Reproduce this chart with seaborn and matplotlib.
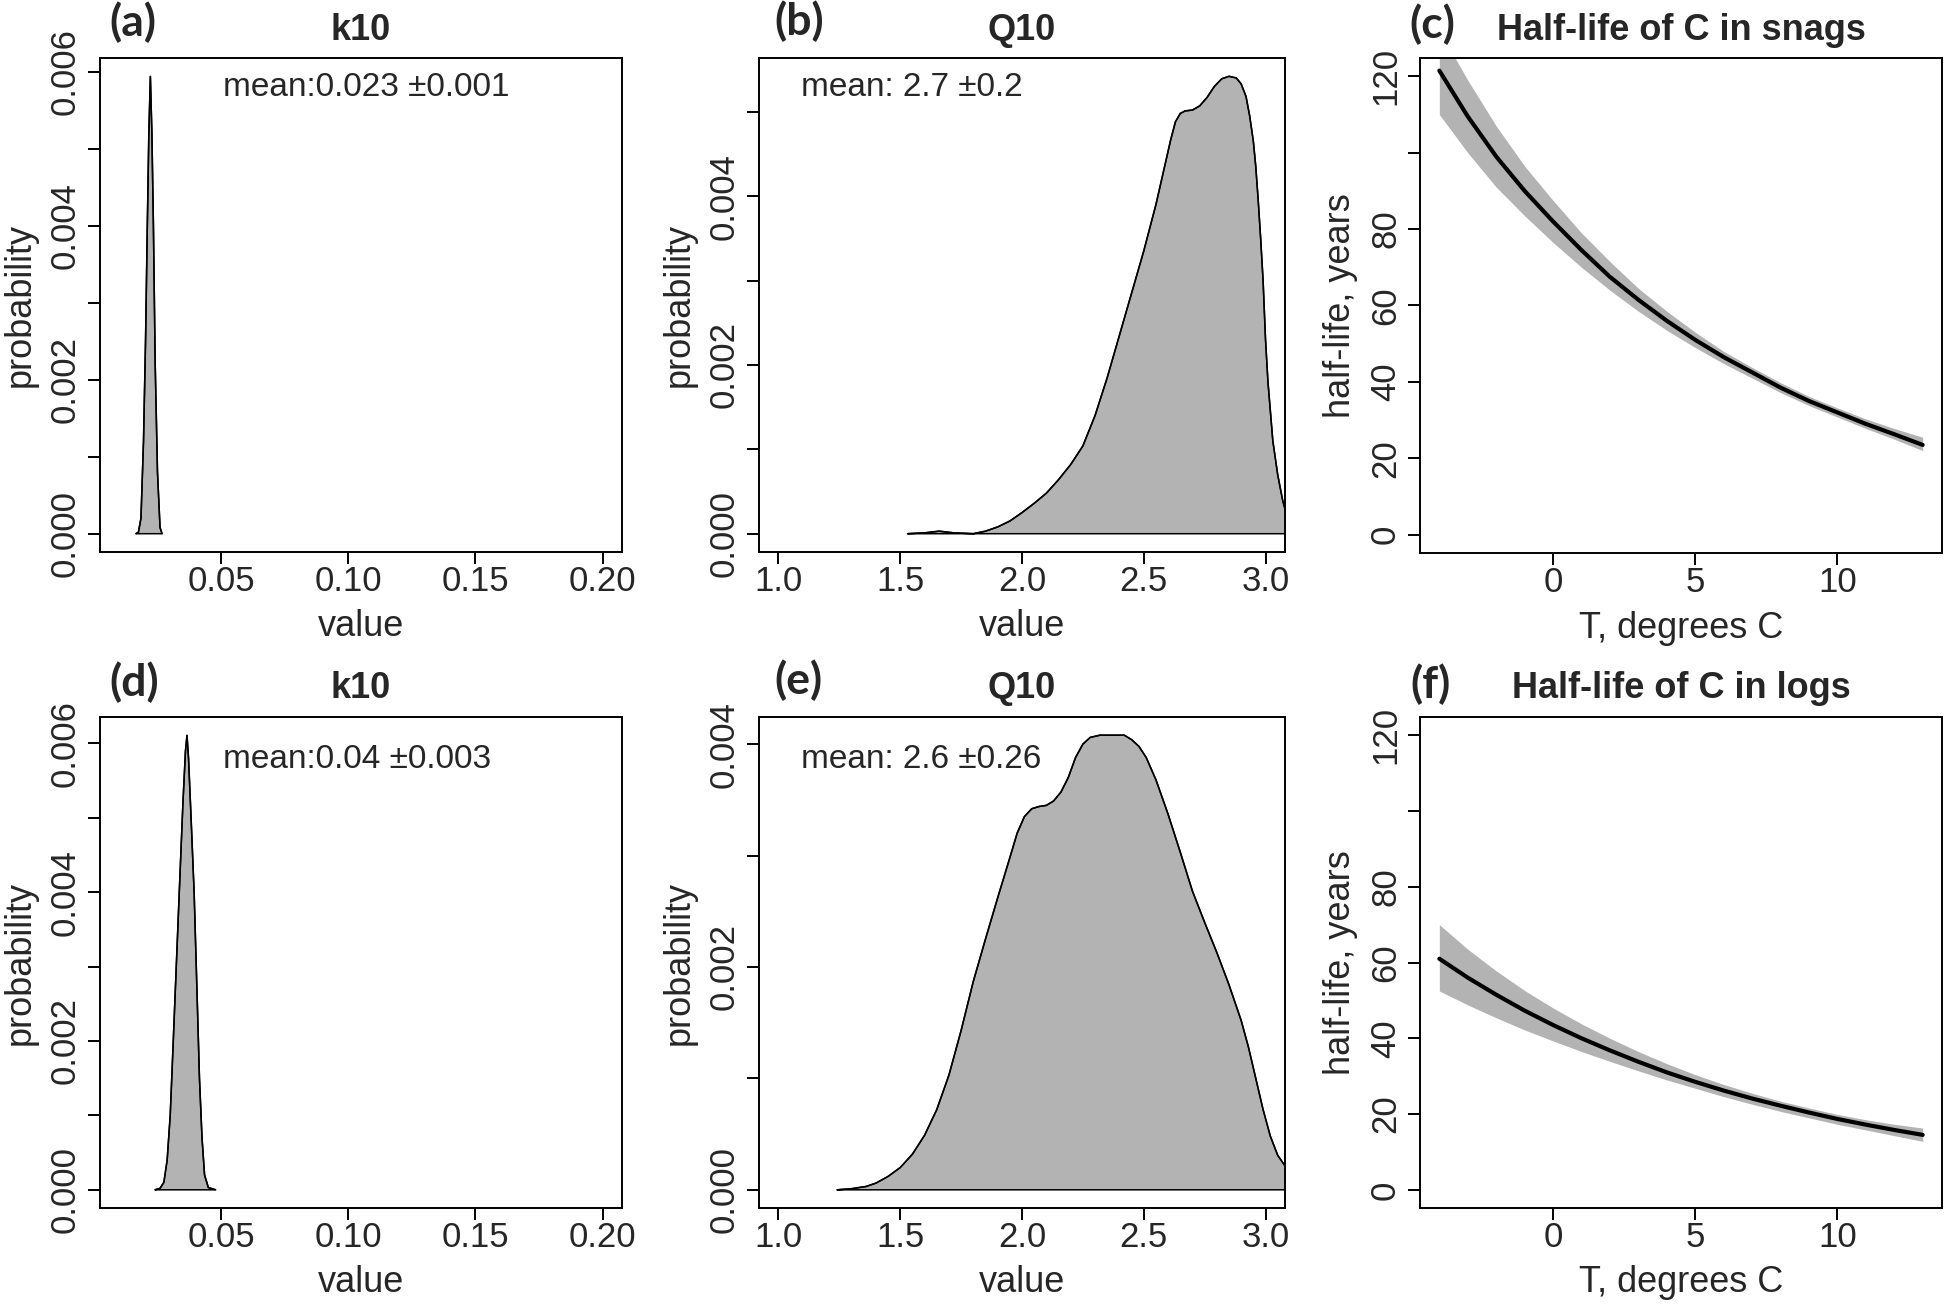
import numpy as np
import matplotlib
matplotlib.use("Agg")
import matplotlib.pyplot as plt
import seaborn as sns

# ---- data ----
# (a) k10 posterior, snags
k10_snag_x = [0.0165, 0.0175, 0.0185, 0.0195, 0.0203, 0.0210, 0.0216, 0.0222, 0.0228,
              0.0234, 0.0241, 0.0250, 0.0260, 0.0268]
k10_snag_p = [0, 0.00002, 0.0002, 0.0012, 0.0025, 0.0040, 0.0052, 0.00594, 0.0052,
              0.0040, 0.0022, 0.0008, 0.00008, 0]

# (b) Q10 posterior, snags
q10_snag_x = [1.53, 1.60, 1.66, 1.72, 1.80, 1.85, 1.90, 1.95, 2.00, 2.05, 2.10, 2.15, 2.20,
              2.25, 2.30, 2.35, 2.40, 2.45, 2.50, 2.55, 2.58, 2.61, 2.63, 2.65, 2.67, 2.70,
              2.73, 2.76, 2.79, 2.82, 2.85, 2.88, 2.90, 2.92, 2.935, 2.95, 2.96, 2.97, 2.98,
              2.99, 3.00, 3.01, 3.03, 3.05, 3.07, 3.085]
q10_snag_p = [0, 0.00001, 0.00003, 0.00001, 0, 0.00003, 0.00008, 0.00015, 0.00025, 0.00036,
              0.00048, 0.00064, 0.00082, 0.00104, 0.00140, 0.00185, 0.00235, 0.00285, 0.00335,
              0.00390, 0.00428, 0.00466, 0.00488, 0.00498, 0.00501, 0.00502, 0.00507, 0.00517,
              0.00530, 0.00539, 0.00542, 0.00540, 0.00533, 0.00518, 0.00495, 0.00465, 0.00435,
              0.00395, 0.00350, 0.00300, 0.00230, 0.00180, 0.00110, 0.00070, 0.00040, 0.00024]

# (d) k10 posterior, logs
k10_log_x = [0.0240, 0.0260, 0.0275, 0.0288, 0.0300, 0.0312, 0.0325, 0.0338, 0.0350, 0.0360,
             0.0366, 0.0372, 0.0382, 0.0394, 0.0405, 0.0415, 0.0425, 0.0435, 0.0450, 0.0479]
k10_log_p = [0, 0.00002, 0.0001, 0.0004, 0.0010, 0.0020, 0.0031, 0.0042, 0.0052, 0.0059,
             0.00611, 0.0058, 0.0050, 0.0040, 0.0027, 0.0015, 0.0007, 0.0002, 0.00003, 0]

# (e) Q10 posterior, logs
q10_log_x = [1.24, 1.30, 1.36, 1.40, 1.45, 1.50, 1.55, 1.60, 1.65, 1.70, 1.75, 1.80, 1.85,
             1.90, 1.95, 1.98, 2.01, 2.04, 2.07, 2.10, 2.13, 2.16, 2.19, 2.22, 2.25, 2.28,
             2.32, 2.37, 2.42, 2.45, 2.48, 2.51, 2.55, 2.60, 2.65, 2.70, 2.75, 2.80, 2.85,
             2.90, 2.93, 2.96, 2.99, 3.02, 3.05, 3.085]
q10_log_p = [0, 0.00001, 0.00003, 0.00006, 0.00012, 0.0002, 0.00032, 0.00049, 0.00072,
             0.00103, 0.00143, 0.00187, 0.00225, 0.00262, 0.00298, 0.0032, 0.00335, 0.00342,
             0.00344, 0.00345, 0.00349, 0.00357, 0.00370, 0.00388, 0.00400, 0.00406, 0.00408,
             0.00408, 0.00408, 0.00404, 0.00398, 0.00388, 0.00368, 0.00337, 0.00303, 0.00268,
             0.00240, 0.00213, 0.00184, 0.00152, 0.00128, 0.00100, 0.00072, 0.00048, 0.00031,
             0.0002]

# (c), (f) half-life vs temperature
temp = [-4, -3, -2, -1, 0, 1, 2, 3, 4, 5, 6, 7, 8, 9, 10, 11, 12, 13]
snag_mid = [121.5, 109.5, 99, 90, 82, 74.5, 67.5, 61.5, 56, 51, 46.5, 42.5, 38.5, 35, 32, 29, 26.3, 23.5]
snag_hi = [132, 119, 107, 96.5, 87.5, 79, 71.5, 64.5, 58.5, 53, 48, 43.8, 39.8, 36.2, 33.2, 30.3, 27.8, 25.5]
snag_lo = [110, 100, 91, 83.5, 76.5, 70, 64, 58.5, 53.5, 49, 44.8, 41, 37.2, 33.8, 30.8, 27.8, 25, 22]
log_mid = [61, 56, 51.5, 47.3, 43.5, 40, 36.8, 33.8, 31, 28.5, 26.2, 24.1, 22.2, 20.4, 18.7, 17.2, 15.8, 14.5]
log_hi = [70, 63.5, 57.8, 52.6, 48, 43.8, 40, 36.5, 33.3, 30.4, 27.8, 25.5, 23.4, 21.6, 19.9, 18.5, 17.3, 16.3]
log_lo = [52.5, 48.8, 45.4, 42.2, 39.3, 36.5, 33.9, 31.4, 29, 26.8, 24.6, 22.6, 20.7, 19, 17.3, 15.8, 14.3, 12.8]

mean_labels = ["mean:0.023 \u00b10.001", "mean: 2.7 \u00b10.2", "mean:0.04 \u00b10.003", "mean: 2.6 \u00b10.26"]

sns.set_style("ticks")
plt.rcParams['font.family'] = ['Liberation Sans', 'DejaVu Sans']

GRAY = "#b3b3b3"
W, H = 1946, 1307
fig = plt.figure(figsize=(W / 100, H / 100), dpi=100)


def add_box(l, t, r, b):
    ax = fig.add_axes([l / W, 1 - b / H, (r - l) / W, (b - t) / H])
    ax.wpx, ax.hpx = r - l, b - t
    return ax


def style(ax, xlabel, ylabel, title, yticks, ylabels):
    for s in ax.spines.values():
        s.set_visible(True)
        s.set_linewidth(1.4)
        s.set_color("black")
    ax.tick_params(direction="out", length=8.6, width=1.4, labelsize=25, color="black")
    ax.tick_params(axis="x", pad=0.5)
    ax.tick_params(axis="y", pad=4.3)
    ax.set_yticks(yticks)
    ax.set_yticklabels(ylabels)
    plt.setp(ax.get_yticklabels(), rotation=90, va="center")
    ax.set_xlabel(xlabel, fontsize=26)
    ax.set_ylabel(ylabel, fontsize=26)
    ax.xaxis.label.set_va("center")
    ax.yaxis.label.set_va("center")
    ax.xaxis.set_label_coords(0.5, -75 / ax.hpx)
    ax.yaxis.set_label_coords(-80 / ax.wpx, 0.5)
    ax.text(0.5, 1 + 28 / ax.hpx, title, transform=ax.transAxes, ha="center", va="center",
            fontsize=26, fontweight="bold")
    ax.grid(False)


def density(ax, x, p):
    ax.fill(np.append(x, x[-1]), np.append(p, 0), facecolor=GRAY, edgecolor="black", lw=1.1)
    sns.lineplot(x=x, y=p, ax=ax, color="black", lw=1.1, sort=False)
    peak = max(p)
    ax.set_ylim(-0.04 * peak, 1.04 * peak)


def halflife(ax, mid, lo, hi):
    ax.fill_between(temp, lo, hi, color=GRAY, lw=0)
    sns.lineplot(x=temp, y=mid, ax=ax, color="black", lw=3)
    ax.set_xlim(-4 - 0.04 * 17, 13 + 0.04 * 17)
    ax.set_ylim(-4.8, 124.8)
    ax.set_xticks([0, 5, 10])


ax_a = add_box(100, 58, 622, 552)
ax_b = add_box(759, 58, 1285, 552)
ax_c = add_box(1420, 58, 1942, 553)
ax_d = add_box(100, 717, 622, 1208)
ax_e = add_box(759, 717, 1285, 1208)
ax_f = add_box(1420, 717, 1942, 1208)

k_ticks = [0.0, 0.001, 0.002, 0.003, 0.004, 0.005, 0.006]
k_labs = ["0.000", "", "0.002", "", "0.004", "", "0.006"]

# k10 panels
for ax, x, p, lab, fy in [(ax_a, k10_snag_x, k10_snag_p, mean_labels[0], 1 - 29.5 / 494),
                          (ax_d, k10_log_x, k10_log_p, mean_labels[2], 1 - 43 / 491)]:
    density(ax, x, p)
    ax.set_xlim(0.01 - 0.04 * 0.19, 0.2 + 0.04 * 0.19)
    ax.set_xticks([0.05, 0.10, 0.15, 0.20])
    ax.set_xticklabels(["0.05", "0.10", "0.15", "0.20"])
    style(ax, "value", "probability", "k10", k_ticks, k_labs)
    ax.text(0.2356, fy, lab, transform=ax.transAxes, ha="left", va="center", fontsize=24)

# Q10 panels
density(ax_b, q10_snag_x, q10_snag_p)
style(ax_b, "value", "probability", "Q10", k_ticks[:6], k_labs[:6])
density(ax_e, q10_log_x, q10_log_p)
style(ax_e, "value", "probability", "Q10", k_ticks[:5], k_labs[:5])
for ax, lab, fy in [(ax_b, mean_labels[1], 1 - 29.5 / 494), (ax_e, mean_labels[3], 1 - 43 / 491)]:
    ax.set_xlim(1 - 0.08, 3 + 0.08)
    ax.set_xticks([1.0, 1.5, 2.0, 2.5, 3.0])
    ax.set_xticklabels(["1.0", "1.5", "2.0", "2.5", "3.0"])
    ax.text(0.08, fy, lab, transform=ax.transAxes, ha="left", va="center", fontsize=24)

# half-life panels
hl_ticks = [0, 20, 40, 60, 80, 100, 120]
hl_labs = ["0", "20", "40", "60", "80", "", "120"]
halflife(ax_c, snag_mid, snag_lo, snag_hi)
style(ax_c, "T, degrees C", "half-life, years", "Half-life of C in snags", hl_ticks, hl_labs)
halflife(ax_f, log_mid, log_lo, log_hi)
style(ax_f, "T, degrees C", "half-life, years", "Half-life of C in logs", hl_ticks, hl_labs)

# panel letters
for s, x, y in [("(a)", 133, 22), ("(b)", 799, 21), ("(c)", 1432, 24),
                ("(d)", 134, 682), ("(e)", 798, 680), ("(f)", 1431, 684)]:
    fig.text(x / W, 1 - y / H, s, ha="center", va="center", fontsize=32,
             fontweight="bold", family=["Lato", "DejaVu Sans"])

fig.savefig("out.png", dpi=100)
